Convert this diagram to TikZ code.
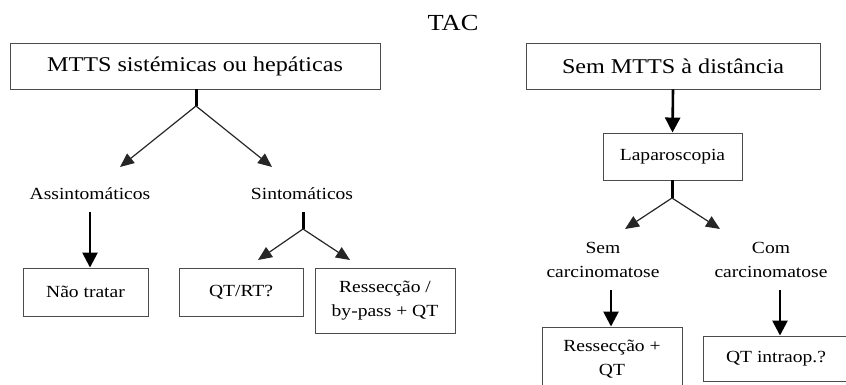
\documentclass[tikz,border=0pt]{standalone}
\usepackage{fontspec}
\setmainfont[FakeStretch=1.15]{Liberation Serif}
\usetikzlibrary{arrows.meta}
\begin{document}
\begin{tikzpicture}[x=1pt,y=-1pt,
  box/.style={draw=black!70,line width=0.9pt,rectangle,inner sep=0pt,align=center,text=black},
  bigtxt/.style={font=\fontsize{21}{24}\selectfont},
  smalltxt/.style={font=\fontsize{17}{24}\selectfont},
  lbl/.style={inner sep=0pt,align=center,text=black,font=\fontsize{17}{24}\selectfont},
  stem/.style={line width=3pt,draw=black},
  diag/.style={line width=1.2pt,draw=black!85,-{Triangle[length=14pt,width=12pt]}},
  thick arrow/.style={line width=2.6pt,draw=black,-{Triangle[length=15pt,width=15pt]}}
]
\useasboundingbox (0,0) rectangle (846,385);
\clip (0,0) rectangle (846,385);

\node[inner sep=0pt,text=black,font=\fontsize{23}{26}\selectfont] (tac) at (453,23) {TAC};

\node[box,bigtxt,minimum width=370pt,minimum height=46pt] (b1) at (195,66) {MTTS sistémicas ou hepáticas};
\node[box,bigtxt,minimum width=294pt,minimum height=46pt] (b2) at (673,66) {Sem MTTS à distância};
\node[box,smalltxt,minimum width=139pt,minimum height=47pt] (lap) at (672.5,156.5) {Laparoscopia};

\node[lbl] (asym) at (90,194) {Assintomáticos};
\node[lbl] (sym) at (302,194) {Sintomáticos};
\node[lbl] (semc) at (603,260) {Sem\\carcinomatose};
\node[lbl] (comc) at (771,260) {Com\\carcinomatose};

\node[box,smalltxt,minimum width=125pt,minimum height=48pt] (nao) at (85.5,292) {Não tratar};
\node[box,smalltxt,minimum width=124pt,minimum height=48pt] (qtrt) at (241,292) {QT/RT?};
\node[box,smalltxt,minimum width=140pt,minimum height=65pt] (res1) at (385,300.5) {Ressecção /\\by-pass + QT};
\node[box,smalltxt,minimum width=140pt,minimum height=65pt] (res2) at (612,359.5) {Ressecção +\\QT};
\node[box,smalltxt,minimum width=146pt,minimum height=45pt] (qti) at (776,358.5) {QT intraop.?};

% fork 1
\coordinate (f1) at (196,106);
\coordinate (e1a) at (120,167);
\coordinate (e1b) at (272,167);
\draw[stem] (b1.south -| f1) -- (f1);
\draw[diag] (f1) -- (e1a);
\draw[diag] (f1) -- (e1b);

% assintomaticos
\coordinate (a1s) at (90,212);
\draw[thick arrow] (a1s) -- (nao.north -| a1s);

% fork 2
\coordinate (f2t) at (303,212);
\coordinate (f2) at (303,229);
\coordinate (e2a) at (258,260);
\coordinate (e2b) at (350,260);
\draw[stem] (f2t) -- (f2);
\draw[diag] (f2) -- (e2a);
\draw[diag] (f2) -- (e2b);

% right
\draw[thick arrow] (b2.south) -- (lap.north);

\coordinate (f3) at (672,198);
\coordinate (e3a) at (625,229);
\coordinate (e3b) at (720,229);
\draw[stem] (lap.south -| f3) -- (f3);
\draw[diag] (f3) -- (e3a);
\draw[diag] (f3) -- (e3b);

\coordinate (s4) at (611,290);
\coordinate (s5) at (780,290);
\draw[thick arrow] (s4) -- (res2.north -| s4);
\draw[thick arrow] (s5) -- (qti.north -| s5);
\end{tikzpicture}
\end{document}
